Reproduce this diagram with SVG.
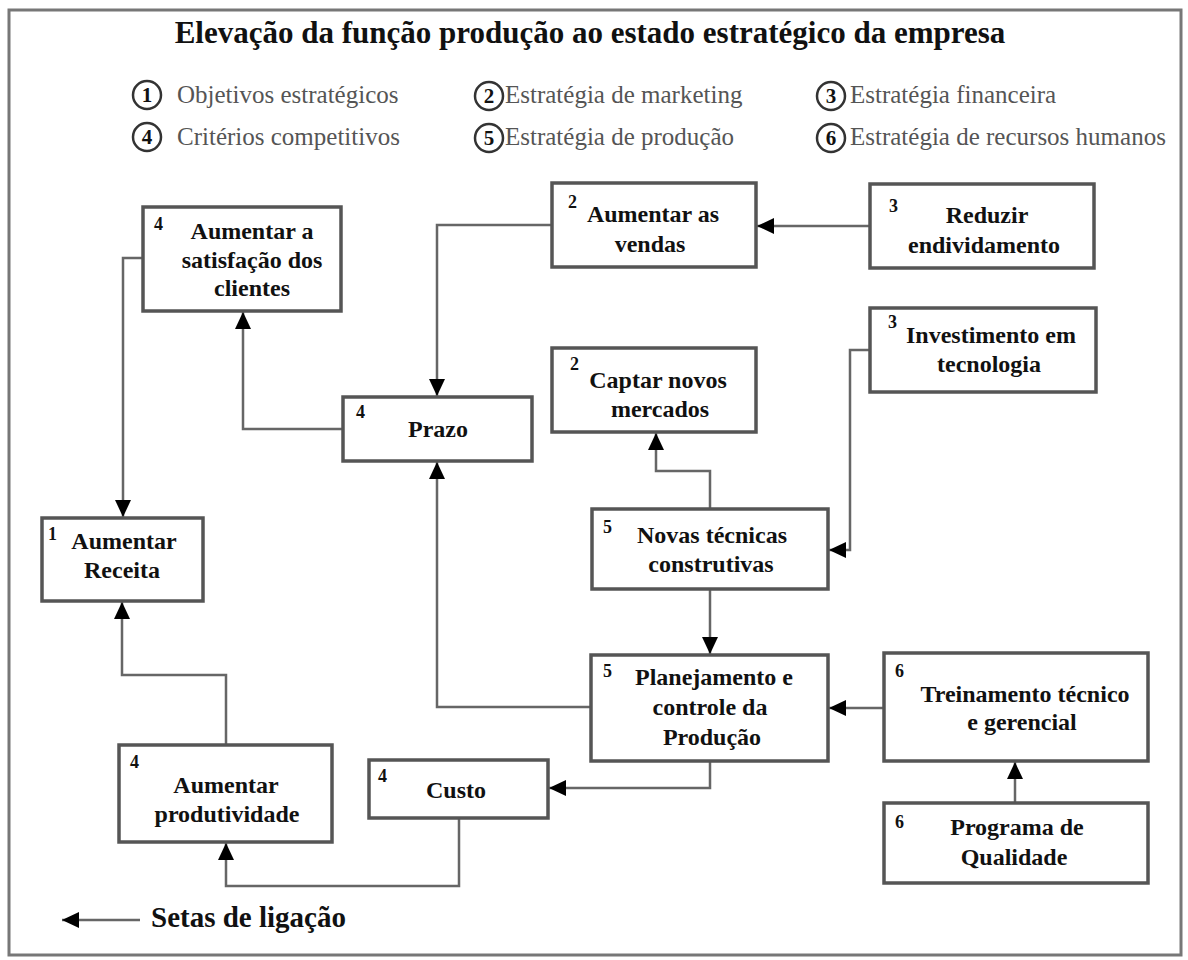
<svg xmlns="http://www.w3.org/2000/svg" width="1188" height="960" viewBox="0 0 1188 960">
<style>
.bg{fill:#fff}
.frame{fill:none;stroke:#777;stroke-width:3}
.box{fill:#fff;stroke:#555;stroke-width:3.5}
.t{font-family:"Liberation Serif","Times New Roman",serif;font-weight:bold;font-size:24px;fill:#111;text-anchor:middle}
.n{font-family:"Liberation Serif","Times New Roman",serif;font-weight:bold;font-size:18px;fill:#111}
.title{font-family:"Liberation Serif","Times New Roman",serif;font-weight:bold;font-size:31px;fill:#111;text-anchor:middle}
.lg{font-family:"Liberation Serif","Times New Roman",serif;font-size:25px;fill:#555}
.lc{fill:#fff;stroke:#333;stroke-width:2.5}
.ln{font-family:"Liberation Serif","Times New Roman",serif;font-weight:bold;font-size:21px;fill:#111;text-anchor:middle}
.c{fill:none;stroke:#666;stroke-width:2.5}
.setas{font-family:"Liberation Serif","Times New Roman",serif;font-weight:bold;font-size:29px;fill:#111}
</style>
<defs>
<marker id="ah" markerUnits="userSpaceOnUse" markerWidth="18" markerHeight="16" refX="17" refY="8" orient="auto">
<path d="M0,0 L17,8 L0,16 z" fill="#000"/>
</marker>
</defs>
<rect class="bg" x="0" y="0" width="1188" height="960"/>
<rect class="frame" x="9" y="10" width="1172" height="945"/>

<text class="title" x="590" y="43">Elevação da função produção ao estado estratégico da empresa</text>

<g id="legend">
<circle class="lc" cx="147" cy="95" r="14"/><text class="ln" x="147" y="102">1</text>
<text class="lg" x="177" y="103">Objetivos estratégicos</text>
<circle class="lc" cx="147" cy="137" r="14"/><text class="ln" x="147" y="144">4</text>
<text class="lg" x="177" y="145">Critérios competitivos</text>
<circle class="lc" cx="489" cy="96" r="14"/><text class="ln" x="489" y="103">2</text>
<text class="lg" x="505" y="103">Estratégia de marketing</text>
<circle class="lc" cx="489" cy="138" r="14"/><text class="ln" x="489" y="145">5</text>
<text class="lg" x="505" y="145">Estratégia de produção</text>
<circle class="lc" cx="831" cy="96" r="14"/><text class="ln" x="831" y="103">3</text>
<text class="lg" x="850" y="103">Estratégia financeira</text>
<circle class="lc" cx="831" cy="138" r="14"/><text class="ln" x="831" y="145">6</text>
<text class="lg" x="850" y="145">Estratégia de recursos humanos</text>
</g>

<g id="connectors">
<path class="c" d="M870,226 H757" marker-end="url(#ah)"/>
<path class="c" d="M552,225 H437 V396" marker-end="url(#ah)"/>
<path class="c" d="M343,429 H243 V312" marker-end="url(#ah)"/>
<path class="c" d="M143,258 H123 V517" marker-end="url(#ah)"/>
<path class="c" d="M710,509 V471 H656 V433" marker-end="url(#ah)"/>
<path class="c" d="M870,350 H850 V550 H829" marker-end="url(#ah)"/>
<path class="c" d="M710,589 V654" marker-end="url(#ah)"/>
<path class="c" d="M591,707 H437 V462" marker-end="url(#ah)"/>
<path class="c" d="M884,708 H829" marker-end="url(#ah)"/>
<path class="c" d="M1015,803 V762" marker-end="url(#ah)"/>
<path class="c" d="M710,761 V788 H549" marker-end="url(#ah)"/>
<path class="c" d="M459,818 V886 H226 V843" marker-end="url(#ah)"/>
<path class="c" d="M226,745 V675 H122 V602" marker-end="url(#ah)"/>
</g>

<g id="n-satisfacao">
<rect class="box" x="143" y="207" width="198" height="104"/>
<text class="n" x="154" y="230">4</text>
<text class="t" x="252" y="239">Aumentar a</text>
<text class="t" x="252" y="268">satisfação dos</text>
<text class="t" x="252" y="296">clientes</text>
</g>

<g id="n-vendas">
<rect class="box" x="552" y="183" width="204" height="84"/>
<text class="n" x="568" y="208">2</text>
<text class="t" x="653" y="222">Aumentar as</text>
<text class="t" x="650" y="252">vendas</text>
</g>

<g id="n-reduzir">
<rect class="box" x="870" y="184" width="224" height="84"/>
<text class="n" x="889" y="212">3</text>
<text class="t" x="987" y="223">Reduzir</text>
<text class="t" x="984" y="253">endividamento</text>
</g>

<g id="n-investimento">
<rect class="box" x="870" y="308" width="226" height="84"/>
<text class="n" x="888" y="328">3</text>
<text class="t" x="991" y="343">Investimento em</text>
<text class="t" x="989" y="372">tecnologia</text>
</g>

<g id="n-captar">
<rect class="box" x="552" y="348" width="204" height="84"/>
<text class="n" x="570" y="370">2</text>
<text class="t" x="658" y="388">Captar novos</text>
<text class="t" x="660" y="417">mercados</text>
</g>

<g id="n-prazo">
<rect class="box" x="343" y="397" width="189" height="64"/>
<text class="n" x="356" y="418">4</text>
<text class="t" x="438" y="437">Prazo</text>
</g>

<g id="n-receita">
<rect class="box" x="42" y="518" width="161" height="83"/>
<text class="n" x="48" y="540">1</text>
<text class="t" x="124" y="549">Aumentar</text>
<text class="t" x="122" y="578">Receita</text>
</g>

<g id="n-novas">
<rect class="box" x="592" y="509" width="236" height="80"/>
<text class="n" x="603" y="533">5</text>
<text class="t" x="712" y="543">Novas técnicas</text>
<text class="t" x="711" y="572">construtivas</text>
</g>

<g id="n-planejamento">
<rect class="box" x="591" y="655" width="237" height="106"/>
<text class="n" x="603" y="677">5</text>
<text class="t" x="714" y="685">Planejamento e</text>
<text class="t" x="710" y="715">controle da</text>
<text class="t" x="712" y="745">Produção</text>
</g>

<g id="n-treinamento">
<rect class="box" x="884" y="653" width="264" height="108"/>
<text class="n" x="895" y="677">6</text>
<text class="t" x="1025" y="702">Treinamento técnico</text>
<text class="t" x="1022" y="730">e gerencial</text>
</g>

<g id="n-programa">
<rect class="box" x="884" y="803" width="264" height="80"/>
<text class="n" x="895" y="828">6</text>
<text class="t" x="1017" y="835">Programa de</text>
<text class="t" x="1014" y="865">Qualidade</text>
</g>

<g id="n-custo">
<rect class="box" x="369" y="760" width="179" height="58"/>
<text class="n" x="378" y="782">4</text>
<text class="t" x="456" y="798">Custo</text>
</g>

<g id="n-produtividade">
<rect class="box" x="119" y="745" width="213" height="97"/>
<text class="n" x="130" y="768">4</text>
<text class="t" x="226" y="793">Aumentar</text>
<text class="t" x="227" y="822">produtividade</text>
</g>

<g id="legend-arrow">
<path class="c" d="M140,920 H62" marker-end="url(#ah)"/>
<text class="setas" x="151" y="927">Setas de ligação</text>
</g>
</svg>
